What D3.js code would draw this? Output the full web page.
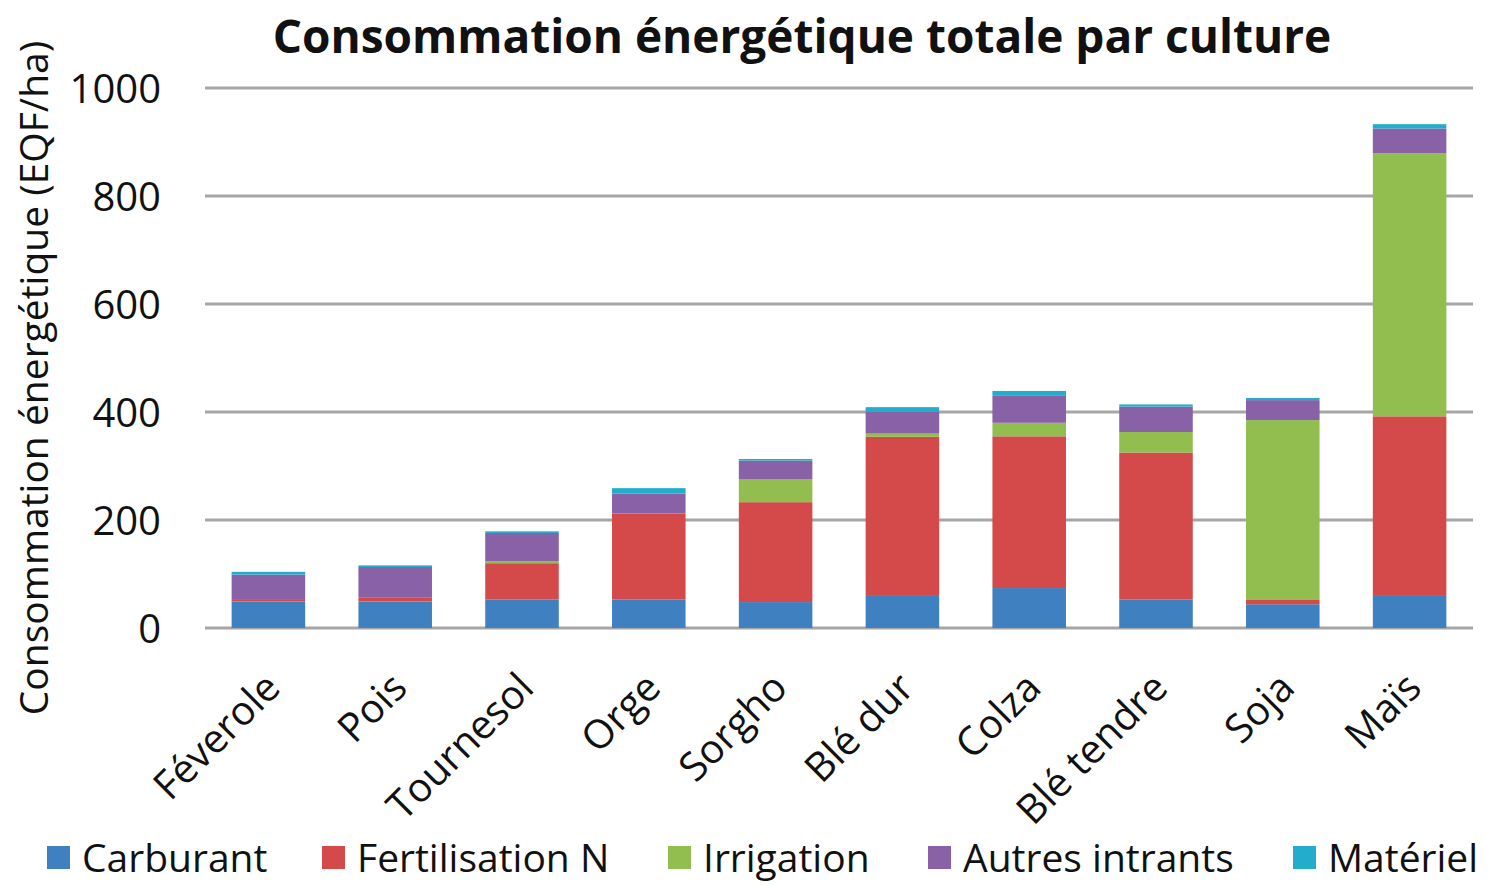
<!DOCTYPE html>
<html>
<head>
<meta charset="utf-8">
<script src="https://cdn.jsdelivr.net/npm/d3@7"></script>
<style>
  body { margin: 0; background: #fff; }
  text { font-family: "Open Sans", sans-serif; fill: #111; }
</style>
</head>
<body>
<div id="wrapper"></div>
<script>
// cultures (x axis)
var cultures = ["Féverole", "Pois", "Tournesol", "Orge", "Sorgho", "Blé dur", "Colza", "Blé tendre", "Soja", "Maïs"];
// series, in EQF/ha
var carburant     = [49, 49, 53, 53, 48, 61, 74, 53, 44, 61];
var fertilisation = [3, 8, 67, 159, 185, 293, 281, 272, 9, 331];
var irrigation    = [0, 0, 4, 0, 42, 6, 25, 38, 332, 487];
var autres        = [47, 56, 52, 37, 35, 41, 51, 47, 37, 46];
var materiel      = [5, 3, 3, 10, 3, 8, 8, 4, 4, 8];
var seriesNames = ["Carburant", "Fertilisation N", "Irrigation", "Autres intrants", "Matériel"];
var colors = ["#3F80C0", "#D44A4B", "#92BE50", "#8961A6", "#22AECB"];
var yTicks = [0, 200, 400, 600, 800, 1000];

var W = 1493, H = 885;
var m = {left: 205, right: 20, top: 88, bottom: 257};

var rows = cultures.map(function(c, i) {
  return {culture: c, "Carburant": carburant[i], "Fertilisation N": fertilisation[i],
    "Irrigation": irrigation[i], "Autres intrants": autres[i], "Matériel": materiel[i]};
});
var stacked = d3.stack().keys(seriesNames)(rows);

var svg = d3.select('#wrapper').append('svg')
  .attr('width', W).attr('height', H);

var x = d3.scaleBand().domain(cultures).range([m.left, W - m.right]).paddingInner(0.42).paddingOuter(0.21);
var y = d3.scaleLinear().domain([0, 1000]).range([H - m.bottom, m.top]);

// grid
svg.append('g').selectAll('line').data(yTicks).enter().append('line')
  .attr('x1', m.left).attr('x2', W - m.right)
  .attr('y1', function(d) { return y(d); }).attr('y2', function(d) { return y(d); })
  .style('stroke', '#a6a6a6').style('stroke-width', 3);

// y axis
var yAxis = svg.append('g').attr('transform', 'translate(' + (m.left - 44) + ',0)')
  .call(d3.axisLeft(y).tickValues(yTicks).tickFormat(d3.format('d')).tickSize(0).tickPadding(0));
yAxis.select('.domain').remove();
yAxis.selectAll('text').style('font-size', '40px').attr('dy', '0.35em');

// bars
svg.append('g').selectAll('g').data(stacked).enter().append('g')
  .style('fill', function(d, i) { return colors[i]; })
  .selectAll('rect').data(function(d) { return d; }).enter().append('rect')
  .attr('x', function(d) { return x(d.data.culture); })
  .attr('width', x.bandwidth())
  .attr('y', function(d) { return y(d[1]); })
  .attr('height', function(d) { return y(d[0]) - y(d[1]); });

// x labels
var xAxis = svg.append('g').attr('transform', 'translate(0,' + (H - m.bottom) + ')')
  .call(d3.axisBottom(x).tickSize(0).tickPadding(0));
xAxis.select('.domain').remove();
xAxis.selectAll('text')
  .style('font-size', '40px')
  .style('text-anchor', 'end')
  .attr('dy', null)
  .attr('transform', 'translate(14,62) rotate(-45)');

// title
svg.append('text').attr('x', 802).attr('y', 53)
  .style('text-anchor', 'middle').style('font-size', '46px').style('font-weight', 'bold')
  .text('Consommation énergétique totale par culture');

// y label
svg.append('text')
  .attr('transform', 'translate(48,378) rotate(-90)')
  .style('text-anchor', 'middle').style('font-size', '39px')
  .text('Consommation énergétique (EQF/ha)');

// legend
var legX = [47, 322, 668, 928, 1293];
var leg = svg.append('g').selectAll('g').data(seriesNames).enter().append('g')
  .attr('transform', function(d, i) { return 'translate(' + legX[i] + ',858)'; });
leg.append('rect').attr('x', 0).attr('y', -12).attr('width', 23).attr('height', 23)
  .style('fill', function(d, i) { return colors[i]; });
leg.append('text').attr('x', 35).attr('y', 0).attr('dy', '0.35em')
  .style('font-size', '39px')
  .text(function(d) { return d; });
</script>
</body>
</html>
